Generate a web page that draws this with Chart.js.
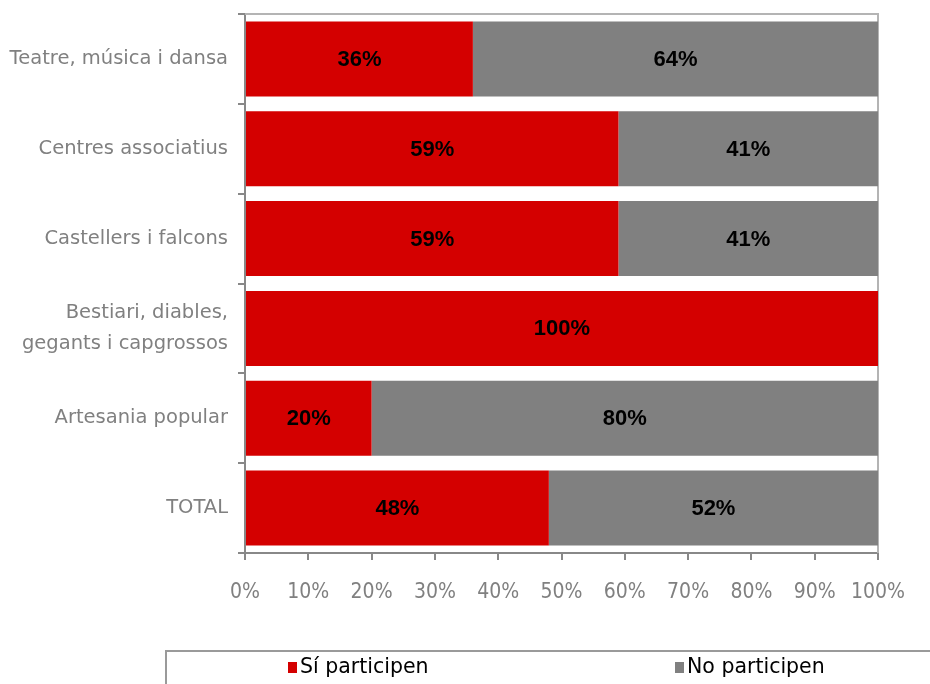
<!DOCTYPE html>
<html>
<head>
<meta charset="utf-8">
<script src="https://cdn.jsdelivr.net/npm/chart.js@4/dist/chart.umd.min.js"></script>
<style>
  html, body { margin: 0; padding: 0; background: #fff; }
  #wrap { width: 930px; height: 684px; position: relative; }
</style>
</head>
<body>
<div id="wrap"><canvas id="grafic"></canvas></div>
<script>
// Dades
const categories = [
    'Teatre, música i dansa',
    'Centres associatius',
    'Castellers i falcons',
    ['Bestiari, diables,', 'gegants i capgrossos'],
    'Artesania popular',
    'TOTAL'
];
const siParticipen = [36, 59, 59, 100, 20, 48];
const noParticipen = [64, 41, 41, 0, 80, 52];
const xTicks = [0, 10, 20, 30, 40, 50, 60, 70, 80, 90, 100];

const FONT = "'DejaVu Sans', sans-serif";
const FONT_NARROW = "'Liberation Sans Narrow', 'DejaVu Sans Condensed', sans-serif";
const FONT_BOLD = "'Liberation Sans', Arial, sans-serif";

// vora superior i dreta de l'àrea del gràfic
const voraPlugin = {
    id: 'vora',
    beforeDatasetsDraw(chart) {
        const { ctx, chartArea: a } = chart;
        ctx.save();
        ctx.strokeStyle = '#b4b4b4';
        ctx.lineWidth = 2;
        ctx.beginPath();
        ctx.moveTo(a.left, a.top);
        ctx.lineTo(a.right, a.top);
        ctx.lineTo(a.right, a.bottom);
        ctx.stroke();
        ctx.restore();
    }
};

// etiquetes de percentatge dins les barres
const etiquetesPlugin = {
    id: 'etiquetes',
    afterDatasetsDraw(chart) {
        const ctx = chart.ctx;
        ctx.save();
        ctx.font = "bold 22px " + FONT_BOLD;
        ctx.fillStyle = '#000';
        ctx.textAlign = 'center';
        ctx.textBaseline = 'middle';
        chart.data.datasets.forEach((ds, i) => {
            chart.getDatasetMeta(i).data.forEach((bar, j) => {
                const v = ds.data[j];
                if (!v) return;
                const x = (bar.base + bar.x) / 2;
                ctx.fillText(v + '%', x, bar.y + 1);
            });
        });
        ctx.restore();
    }
};

// llegenda en caixa a la part inferior
const llegendaPlugin = {
    id: 'llegenda',
    afterDraw(chart) {
        const ctx = chart.ctx;
        ctx.save();
        ctx.strokeStyle = '#9a9a9a';
        ctx.lineWidth = 2;
        ctx.strokeRect(166, 651, 800, 60);
        ctx.font = "20.5px " + FONT;
        ctx.textBaseline = 'middle';
        ctx.textAlign = 'left';
        const pos = [288, 675];
        chart.data.datasets.forEach((ds, i) => {
            ctx.fillStyle = ds.backgroundColor;
            ctx.fillRect(pos[i], 662, 9, 11);
            ctx.fillStyle = '#000';
            ctx.fillText(ds.label, pos[i] + 12, 668);
        });
        ctx.restore();
    }
};

const ctx = document.getElementById('grafic').getContext('2d');
new Chart(ctx, {
    type: 'bar',
    data: {
        labels: categories,
        datasets: [{
            label: 'Sí participen',
            data: siParticipen,
            backgroundColor: '#d40000',
            categoryPercentage: 1,
            barPercentage: 0.835
        }, {
            label: 'No participen',
            data: noParticipen,
            backgroundColor: '#808080',
            categoryPercentage: 1,
            barPercentage: 0.835
        }]
    },
    options: {
        indexAxis: 'y',
        responsive: true,
        maintainAspectRatio: false,
        animation: false,
        layout: { padding: { top: 14, right: 52, left: 0, bottom: 0 } },
        plugins: {
            legend: { display: false },
            tooltip: { enabled: false }
        },
        scales: {
            x: {
                stacked: true,
                min: 0,
                max: 100,
                afterBuildTicks: function(scale) {
                    scale.ticks = xTicks.map(v => ({ value: v }));
                },
                afterFit: function(scale) { scale.height = 131; },
                border: { color: '#888', width: 2 },
                grid: {
                    drawOnChartArea: false,
                    drawTicks: true,
                    tickLength: 7,
                    color: '#888',
                    lineWidth: 2
                },
                ticks: {
                    padding: 20,
                    color: '#808080',
                    font: { family: FONT_NARROW, size: 21 },
                    callback: v => v + '%'
                }
            },
            y: {
                stacked: true,
                afterFit: function(scale) {
                    scale.width = 245;
                    scale.paddingTop = 0;
                    scale.paddingBottom = 0;
                },
                border: { color: '#888', width: 2 },
                grid: {
                    offset: true,
                    drawOnChartArea: false,
                    drawTicks: true,
                    tickLength: 7,
                    color: '#888',
                    lineWidth: 2
                },
                ticks: {
                    padding: 10,
                    color: '#808080',
                    font: { family: FONT, size: 19.5, lineHeight: 1.55 }
                }
            }
        }
    },
    plugins: [voraPlugin, etiquetesPlugin, llegendaPlugin]
});
</script>
</body>
</html>
